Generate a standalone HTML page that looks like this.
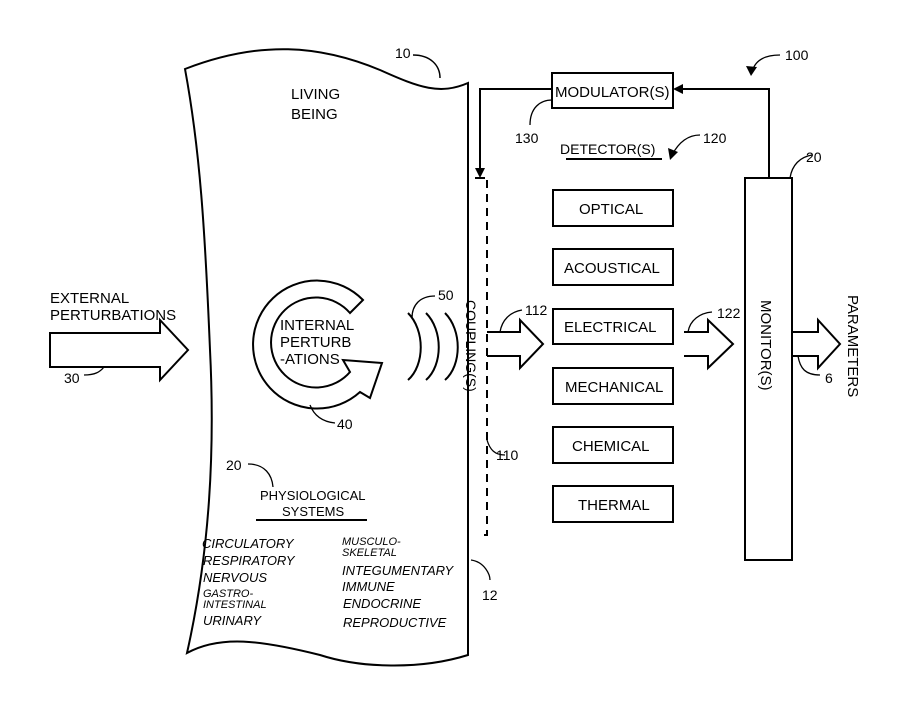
<!DOCTYPE html>
<html><head><style>body{margin:0;background:#fff}svg{display:block}text{font-family:"Liberation Sans",sans-serif;fill:#000}</style></head><body>
<svg width="910" height="719" viewBox="0 0 910 719" xmlns="http://www.w3.org/2000/svg">
<g fill="none" stroke="#000" stroke-width="2">
<!-- living being -->
<path d="M185,69 C260,40 320,45 380,70 C420,88 440,95 468,83 L468,655 C420,670 360,668 320,655 C260,640 220,635 187,653 C210,550 215,450 210,350 C205,230 200,150 185,69 Z"/>
<path d="M413,55 C430,55 440,65 440,78" stroke-width="1.5"/>
<!-- modulator -->
<rect x="552" y="73" width="121" height="35"/>
<path d="M769,178 L769,89 L680,89"/>
<path d="M552,89 L480,89 L480,170"/>
<!-- dashed coupling -->
<path d="M487,180 L487,535 L478,535" stroke-dasharray="8,6"/>
<path d="M475,178 L485,178" />
<!-- detector boxes -->
<rect x="553" y="190" width="120" height="36"/>
<rect x="553" y="249" width="120" height="36"/>
<rect x="553" y="309" width="120" height="35"/>
<rect x="553" y="368" width="120" height="36"/>
<rect x="553" y="427" width="120" height="36"/>
<rect x="553" y="486" width="120" height="36"/>
<line x1="566" y1="159" x2="662" y2="159"/>
<!-- monitor -->
<rect x="745" y="178" width="47" height="382"/>
<!-- arrows -->
<path d="M487,332 L520,332 L520,320 L543,344 L520,368 L520,356 L487,356"/>
<path d="M684,332 L708,332 L708,320 L733,344 L708,368 L708,356 L684,356"/>
<path d="M792,332 L818,332 L818,320 L840,344 L818,368 L818,356 L792,356"/>
<path d="M50,333 L160,333 L160,320 L188,350 L160,380 L160,367 L50,367 Z"/>
<!-- internal perturbation C -->
<path d="M363,300 A64,64 0 1 0 360,392 L370,398 L382,363 L343,360 L350,372 A45,45 0 1 1 350,313 Z"/>
<!-- waves -->
<path d="M408,313 C425,330 425,365 408,380"/>
<path d="M426,313 C443,330 443,365 426,380"/>
<path d="M445,313 C462,330 462,365 445,380"/>
<line x1="256" y1="520" x2="367" y2="520"/>
<!-- leaders -->
<g stroke-width="1.3">
<path d="M435,296 C420,296 412,305 412,318"/>
<path d="M310,405 C315,418 325,422 335,423"/>
<path d="M248,464 C265,464 272,475 273,487"/>
<path d="M487,440 C490,450 495,455 505,455"/>
<path d="M471,560 C485,562 490,575 490,580"/>
<path d="M552,100 C540,100 530,108 530,125"/>
<path d="M700,135 C690,135 680,140 672,155"/>
<path d="M780,55 C765,55 755,60 752,72"/>
<path d="M790,178 C792,165 800,157 812,155"/>
<path d="M500,332 C502,320 510,312 522,310"/>
<path d="M688,332 C690,320 700,313 712,312"/>
<path d="M798,356 C800,368 805,375 820,375"/>
<path d="M84,375 C95,375 100,372 104,367"/>
</g>
</g>
<g fill="#000">
<polygon points="480,178 475,168 485,168"/>
<polygon points="673,89 683,84 683,94"/>
<polygon points="670,160 668,148 678,152"/>
<polygon points="751,76 746,66 757,67"/>
</g>
<g font-size="15">
<text x="291" y="99">LIVING</text><text x="291" y="119">BEING</text>
<text x="395" y="58" font-size="14">10</text>
<text x="50" y="303">EXTERNAL</text><text x="50" y="320">PERTURBATIONS</text>
<text x="64" y="383" font-size="14">30</text>
<text x="280" y="330">INTERNAL</text><text x="280" y="347">PERTURB</text><text x="280" y="364">-ATIONS</text>
<text x="438" y="300" font-size="14">50</text>
<text x="337" y="429" font-size="14">40</text>
<text x="226" y="470" font-size="14">20</text>
<text x="260" y="500" font-size="13">PHYSIOLOGICAL</text><text x="282" y="516" font-size="13">SYSTEMS</text>
<g font-style="italic" font-size="13">
<text x="202" y="548">CIRCULATORY</text><text x="203" y="565">RESPIRATORY</text><text x="203" y="582">NERVOUS</text>
<text x="203" y="597" font-size="11">GASTRO-</text><text x="203" y="608" font-size="11">INTESTINAL</text>
<text x="203" y="625">URINARY</text>
<text x="342" y="545" font-size="11">MUSCULO-</text><text x="342" y="556" font-size="11">SKELETAL</text>
<text x="342" y="575">INTEGUMENTARY</text><text x="342" y="591">IMMUNE</text><text x="343" y="608">ENDOCRINE</text><text x="343" y="627">REPRODUCTIVE</text>
</g>
<text x="482" y="600" font-size="14">12</text>
<text x="496" y="460" font-size="14">110</text>
<text transform="translate(466,300) rotate(90)" font-size="14">COUPLING(S)</text>
<text x="525" y="315" font-size="14">112</text>
<text x="555" y="97">MODULATOR(S)</text>
<text x="515" y="143" font-size="14">130</text>
<text x="560" y="154" font-size="14">DETECTOR(S)</text>
<text x="703" y="143" font-size="14">120</text>
<text x="785" y="60" font-size="14">100</text>
<text x="806" y="162" font-size="14">20</text>
<text x="579" y="214">OPTICAL</text>
<text x="564" y="273">ACOUSTICAL</text>
<text x="564" y="332">ELECTRICAL</text>
<text x="565" y="392">MECHANICAL</text>
<text x="572" y="451">CHEMICAL</text>
<text x="578" y="510">THERMAL</text>
<text x="717" y="318" font-size="14">122</text>
<text transform="translate(761,300) rotate(90)">MONITOR(S)</text>
<text transform="translate(848,295) rotate(90)">PARAMETERS</text>
<text x="825" y="383" font-size="14">6</text>
</g>
</svg>
</body></html>
